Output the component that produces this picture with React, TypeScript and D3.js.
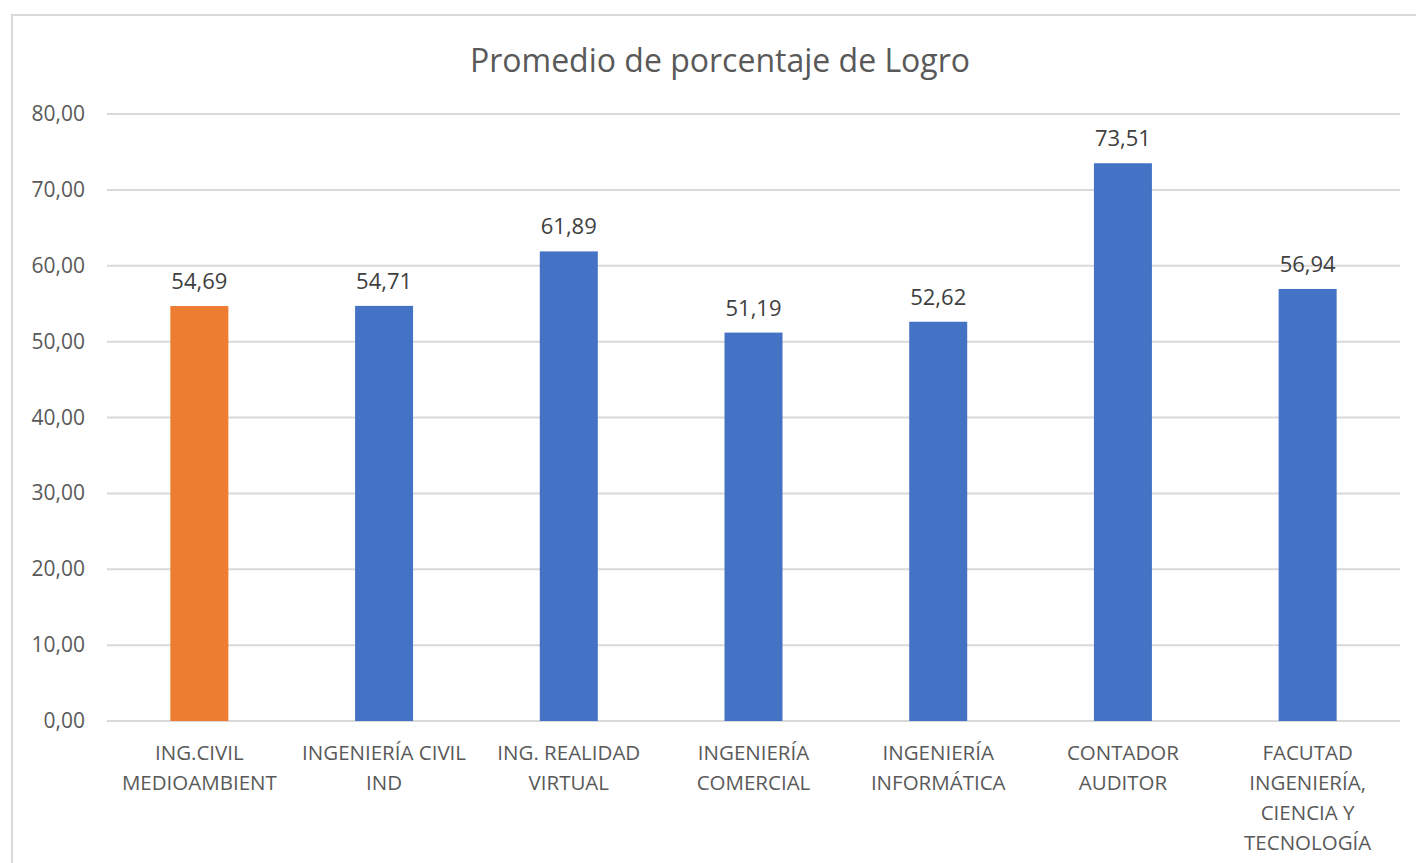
import React from "react";
import { scaleBand, scaleLinear, format } from "d3";

const categories = [
  "ING.CIVIL\nMEDIOAMBIENT",
  "INGENIERÍA CIVIL\nIND",
  "ING. REALIDAD\nVIRTUAL",
  "INGENIERÍA\nCOMERCIAL",
  "INGENIERÍA\nINFORMÁTICA",
  "CONTADOR\nAUDITOR",
  "FACUTAD\nINGENIERÍA,\nCIENCIA Y\nTECNOLOGÍA",
];
const values = [54.69, 54.71, 61.89, 51.19, 52.62, 73.51, 56.94];
const barColors = ["#ED7D31", "#4472C4", "#4472C4", "#4472C4", "#4472C4", "#4472C4", "#4472C4"];
const yTicks = [0, 10, 20, 30, 40, 50, 60, 70, 80];

const W = 1416;
const H = 863;
const font = "'Open Sans', 'Noto Sans', sans-serif";

// comma decimal like the Spanish locale
const fmt = (v: number) => format(".2f")(v).replace(".", ",");

export default function App() {
  const x = scaleBand<string>()
    .domain(categories)
    .range([107, 1400])
    .paddingInner(0.686)
    .paddingOuter(0.343);
  const y = scaleLinear().domain([0, 80]).range([721, 114]);

  return (
    <svg
      width={W}
      height={H}
      style={{ position: "absolute", left: 0, top: 0, background: "#fff" }}
      fontFamily={font}
    >
      <rect x={12} y={15} width={1440} height={880} fill="#fff" stroke="#d9d9d9" strokeWidth={2} />
      <text x={720} y={72} textAnchor="middle" fontSize={32} fill="#595959">
        Promedio de porcentaje de Logro
      </text>

      {yTicks.map((t) => (
        <g key={t}>
          <line x1={107} x2={1400} y1={y(t)} y2={y(t)} stroke="#d9d9d9" strokeWidth={2} />
          <text x={85} y={y(t) + 7} textAnchor="end" fontSize={21} fill="#595959">
            {fmt(t)}
          </text>
        </g>
      ))}

      {categories.map((c, i) => (
        <g key={c}>
          <rect
            x={x(c)}
            y={y(values[i])}
            width={x.bandwidth()}
            height={y(0) - y(values[i])}
            fill={barColors[i]}
          />
          <text
            x={(x(c) ?? 0) + x.bandwidth() / 2}
            y={y(values[i]) - 17}
            textAnchor="middle"
            fontSize={22}
            fill="#404040"
          >
            {fmt(values[i])}
          </text>
          {c.split("\n").map((line, j) => (
            <text
              key={j}
              x={(x(c) ?? 0) + x.bandwidth() / 2}
              y={760 + j * 30}
              textAnchor="middle"
              fontSize={20.5}
              fill="#595959"
            >
              {line}
            </text>
          ))}
        </g>
      ))}
    </svg>
  );
}
